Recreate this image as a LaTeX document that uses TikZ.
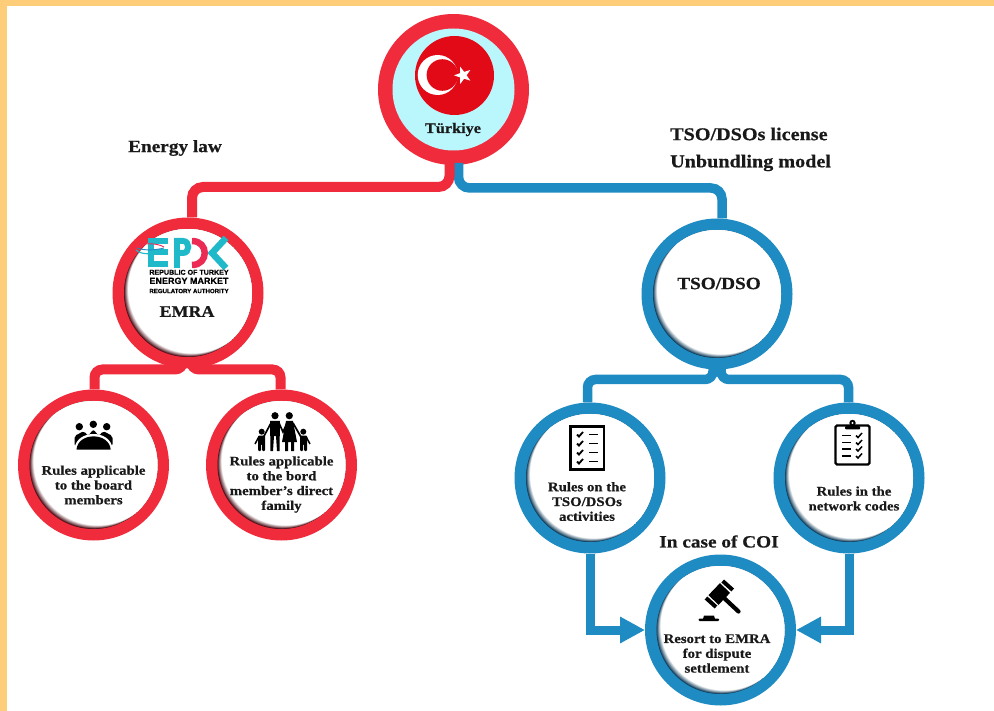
\documentclass[tikz,border=0pt]{standalone}
\usepackage{fontspec}
\setmainfont{Liberation Serif}[FakeStretch=1.12,BoldFeatures={FakeBold=0.6}]
\newfontfamily\logofont{Liberation Sans}[BoldFeatures={FakeBold=0.5}]
\usetikzlibrary{arrows.meta,calc,shapes.geometric}
\definecolor{ringred}{HTML}{F02B3C}
\definecolor{darkred}{HTML}{4A0B14}
\definecolor{ringblue}{HTML}{1F8BC3}
\definecolor{darkblue}{HTML}{0D3A58}
\definecolor{edgeorange}{HTML}{FDCD7A}
\definecolor{paleblue}{HTML}{BAF7FD}
\definecolor{flagred}{HTML}{E30A17}
\definecolor{logoteal}{HTML}{20B9C9}
\definecolor{logopink}{HTML}{EC2B55}
\newcommand{\innershade}[3]{%
  \begin{scope}
    \clip (path picture bounding box.center) circle[radius=#3];
    \foreach \t [evaluate=\t as \p using int(100-\t*10)] in {0,...,10}
      \fill[#1!\p!white] ($(path picture bounding box.center)+(0.42*\t,-0.36*\t)$) circle[radius=#3];
  \end{scope}}
\tikzset{
  x=1pt,y=-1pt,
  ringbase/.style={circle,minimum size=151pt,inner sep=0pt,outer sep=0pt},
  redring/.style={ringbase,fill=ringred,path picture={\innershade{darkred}{ringred}{64}}},
  blueringnode/.style={ringbase,fill=ringblue,path picture={\innershade{darkblue}{ringblue}{64}}},
  redlink/.style={draw=ringred,line width=10pt,rounded corners=11pt},
  bluelink/.style={draw=ringblue,line width=9.5pt,rounded corners=11pt},
  bluearrow/.style={draw=ringblue,line width=9pt,-{Triangle[length=25pt,width=25pt]}},
  caption/.style={font=\fontsize{13.2}{14.8}\selectfont\bfseries,align=center,inner sep=0pt,text=black!90},
  heading/.style={font=\fontsize{18}{20}\selectfont\bfseries,inner sep=0pt,text=black!90},
  midheading/.style={font=\fontsize{17.2}{20}\selectfont\bfseries,inner sep=0pt,text=black!90},
  iconline/.style={draw=black,line width=1.8pt},
}
\begin{document}
\begin{tikzpicture}
\useasboundingbox (0,0) rectangle (994,711);
\fill[white] (0,0) rectangle (994,711);
\fill[edgeorange] (0,0) rectangle (994,6);
\fill[edgeorange] (0,0) rectangle (7,711);

% circles
\node[ringbase,fill=ringred,path picture={\fill[paleblue] (path picture bounding box.center) circle[radius=61];}] (top) at (453.5,89.5) {};
\node[redring] (emra) at (188,293) {};
\node[redring] (board) at (93.5,465) {};
\node[redring] (family) at (281.5,465) {};
\node[blueringnode] (tso) at (717,294) {};
\node[blueringnode] (activities) at (590,478) {};
\node[blueringnode] (codes) at (849,478) {};
\node[blueringnode] (hub) at (720.5,630) {};

% elbows
\coordinate (topleft) at (192,187);
\coordinate (topright) at (722,188);
\coordinate (emraleft) at (94.5,369.5);
\coordinate (emraright) at (280.5,369.5);
\coordinate (tsoleft) at (587.5,379.5);
\coordinate (tsoright) at (848.5,379.5);

% connectors
\draw[bluelink] ($(top.south)+(5,-2)$) |- (topright) -- (tso.north -| topright);
\draw[redlink] ($(top.south)+(-4,-2)$) |- (topleft) -- (emra.north -| topleft);
\draw[redlink,rounded corners=8pt] ($(emra.south)+(-5,-6)$) |- (emraleft) -- (board.north -| emraleft);
\draw[redlink,rounded corners=8pt] ($(emra.south)+(3,-6)$) |- (emraright) -- (family.north -| emraright);
\draw[bluelink,rounded corners=8pt] ($(tso.south)+(-4,-6)$) |- (tsoleft) -- (activities.north -| tsoleft);
\draw[bluelink,rounded corners=8pt] ($(tso.south)+(4,-6)$) |- (tsoright) -- (codes.north -| tsoright);
\draw[bluearrow] (activities.south) |- (hub.west);
\draw[bluearrow] (codes.south) |- (hub.east);

% flag
\fill[flagred] (454.5,75.5) circle[radius=39.5];
\fill[white] (437.7,75) circle[radius=20];
\fill[flagred] (442.4,75) circle[radius=15.8];
\node[star,star points=5,star point ratio=2.5,fill=white,inner sep=0pt,minimum size=18pt,rotate=90] (flagstar) at (463,75.3) {};
\node[caption,font=\fontsize{14.5}{16}\selectfont\bfseries] (turkiye) at (453,129.5) {Türkiye};

% EPDK logo
\draw[logoteal,line width=6pt] (148,241) -- (168,241);
\draw[logoteal,line width=6pt] (152,252.5) -- (168,252.5);
\draw[logoteal,line width=6pt] (148,264) -- (168,264);
\draw[logoteal,line width=6pt] (151,238) -- (151,267);
\draw[logoteal,line width=6pt] (177,238) -- (177,268);
\draw[logoteal,line width=6pt] (174,241) -- (183,241) .. controls (190,241) and (190,253) .. (183,253) -- (177,253);
\draw[logopink,line width=6.5pt] (192,241) .. controls (209,241) and (209,265) .. (192,265);
\draw[logoteal,line width=6.5pt] (226,238) -- (212,253) -- (226,268);
\draw[logopink,line width=.9pt] (136,248) .. controls (140,242) and (158,243) .. (164,247);
\draw[logoteal,line width=1.1pt] (136,250) .. controls (142,256) and (158,254) .. (164,250);
\draw[ringblue,line width=.9pt] (137,248) .. controls (145,251) and (156,250) .. (164,248);
\node[font=\logofont\fontsize{7.1}{9.2}\selectfont\bfseries,align=center,inner sep=0pt] (logotext) at (189,281.5) {REPUBLIC OF TURKEY\\{\fontsize{9}{9.2}\selectfont ENERGY MARKET}\\{\fontsize{6.1}{9.2}\selectfont REGULATORY AUTHORITY}};
\node[font=\fontsize{16}{18}\selectfont\bfseries,inner sep=0pt,text=black!90] (emralabel) at (187,311.5) {EMRA};

% board icon
\fill (79.3,426.7) circle[radius=3.7];
\fill (93.3,424.3) circle[radius=3.7];
\fill (106.7,426.7) circle[radius=3.7];
\fill[rounded corners=2pt] (74.5,446) -- (74.5,436) -- (84,431) -- (88,436) -- (93.3,429.5) -- (99,436) -- (103,431) -- (112.5,436) -- (112.5,446) -- cycle;
\fill[white] (74.5,449) .. controls (76,429) and (111,429) .. (112.5,449) -- cycle;
\fill (76.5,449.5) .. controls (78,432) and (109,432) .. (110.7,449.5) -- cycle;

% family icon
\fill (275,415.7) circle[radius=3.6];
\fill (289.3,415.7) circle[radius=3.6];
\fill (261.7,431.7) circle[radius=3];
\fill (303.3,431.7) circle[radius=3];
\fill (270,421) -- (280,421) -- (279.5,451) -- (277,451) -- (276,436) -- (274,436) -- (273,451) -- (270.5,451) -- cycle;
\fill (286,421) -- (293,421) -- (297,442) -- (294,442) -- (294,451) -- (291,451) -- (291,442) -- (288,442) -- (288,451) -- (285,451) -- (285,442) -- (282,442) -- cycle;
\draw[line width=1.7pt] (271,423) -- (263,438);
\draw[line width=1.7pt] (279,423) -- (283,432) -- (287,423);
\draw[line width=1.7pt] (293,423) -- (301,437);
\fill[rounded corners=1pt] (258,435.5) -- (265,435.5) -- (265,451) -- (262.2,451) -- (262.2,444) -- (261,444) -- (261,451) -- (258,451) -- cycle;
\fill[rounded corners=1pt] (300,435.5) -- (307,435.5) -- (307,451) -- (304,451) -- (304,444) -- (303,444) -- (303,451) -- (300,451) -- cycle;
\draw[line width=1.5pt] (259,436.5) -- (255,444);
\draw[line width=1.5pt] (306,436.5) -- (310,444);

% captions
\node[caption] (boardtext) at (93.5,485) {Rules applicable\\to the board\\members};
\node[caption] (familytext) at (281.5,484.5) {Rules applicable\\to the bord\\member’s direct\\family};
\node[caption] (activitiestext) at (587,501.5) {Rules on the\\TSO/DSOs\\activities};
\node[caption] (codestext) at (854,498.5) {Rules in the\\network codes};
\node[caption] (hubtext) at (717,653.5) {Resort to EMRA\\for dispute\\settlement};
\node[midheading] (tsolabel) at (719,283.5) {TSO/DSO};

% headings
\node[midheading] (law) at (175,148) {Energy law};
\node[heading,anchor=west] (license) at (670,134) {TSO/DSOs license};
\node[heading,anchor=west] (model) at (670,163) {Unbundling model};
\node[midheading] (coi) at (719,541.5) {In case of COI};

% checklist icon
\draw[black,line width=2.4pt] (570.5,426.5) rectangle (604,469.5);
\foreach \yy in {434.5,443.5,452.5,461.5}{
  \draw[iconline] (577,\yy) -- (579,\yy+2) -- (583,\yy-2.5);
  \draw[iconline] (589,\yy) -- (598,\yy);
}

% clipboard icon
\draw[black,line width=2.4pt,rounded corners=1.5pt] (835.5,425.5) rectangle (869.5,464.5);
\fill[rounded corners=1pt] (845,426) rectangle (860,429.5);
\fill (852.5,423) circle[radius=3.2];
\fill[white] (852.5,423) circle[radius=1.2];
\foreach \yy in {435.5,442.5,449,456}{
  \draw[iconline] (842,\yy) -- (851,\yy);
  \draw[iconline,line width=1.5pt] (856,\yy) -- (858,\yy+2) -- (862,\yy-2.5);
}

% gavel icon
\draw[black,line width=14pt] (713.5,600) -- (725,588);
\draw[black,line width=4pt] (706,598) -- (716,607);
\draw[black,line width=4pt] (722.7,581) -- (732.7,590);
\draw[black,line width=4.2pt,line cap=round] (724,598) -- (738.5,611.5);
\fill[rounded corners=1pt] (698.5,618.5) rectangle (719,621);
\fill (703,619) -- (704,615.5) -- (714,615.5) -- (715,619) -- cycle;
\end{tikzpicture}
\end{document}
